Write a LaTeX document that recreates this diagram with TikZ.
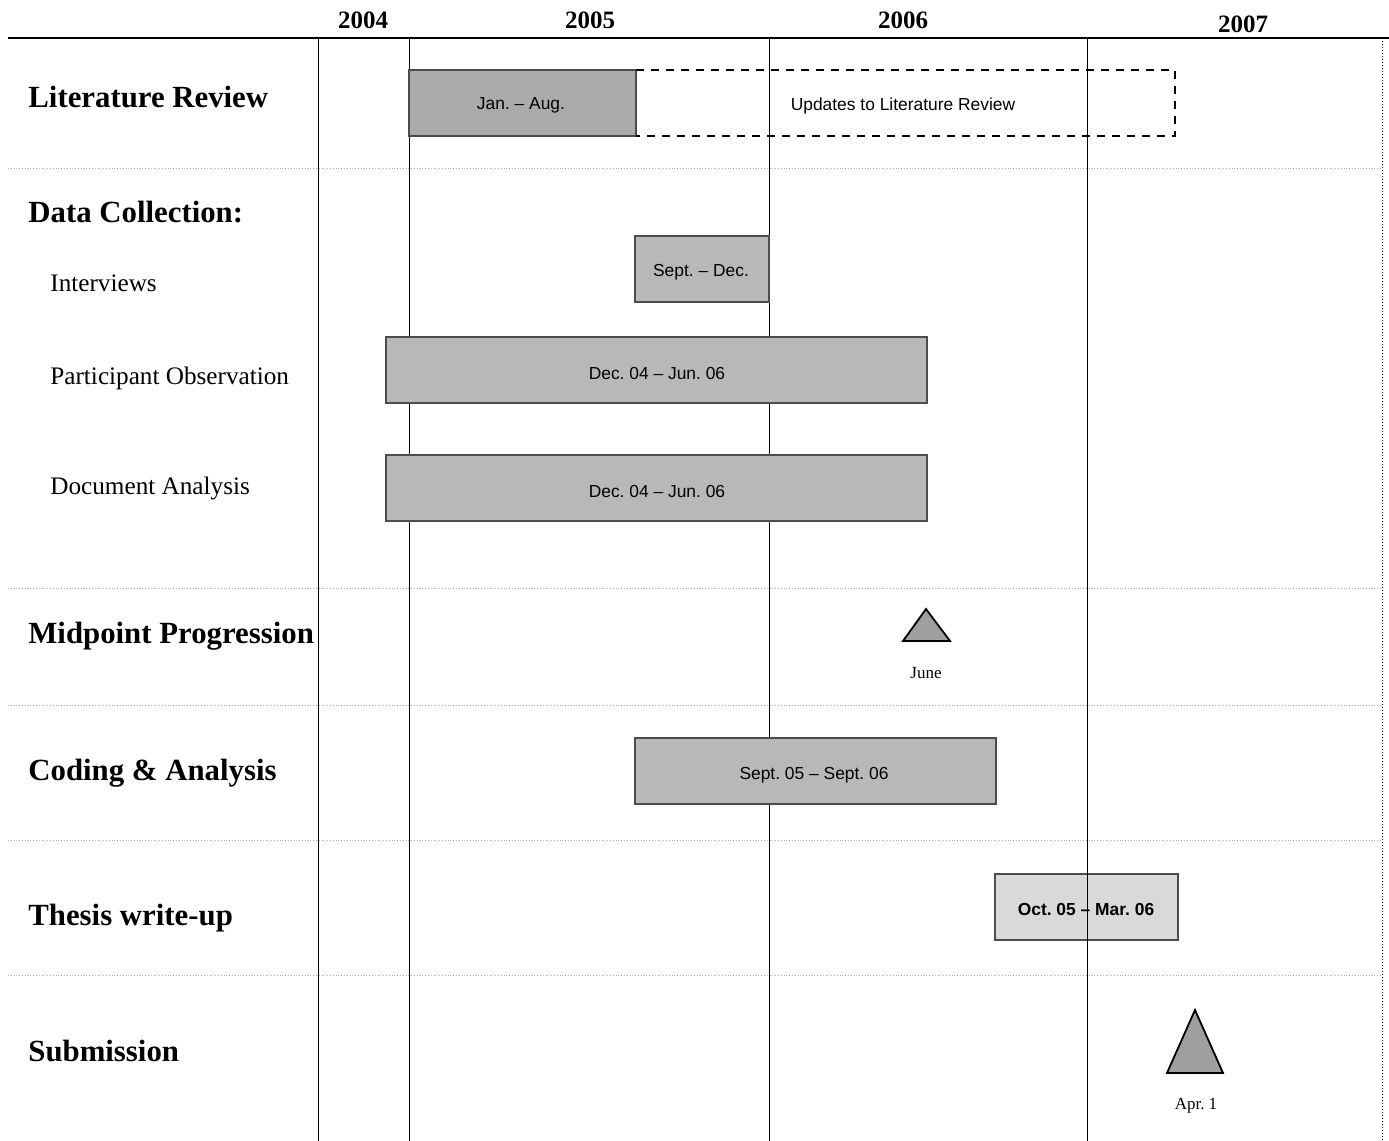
\documentclass[tikz,border=0pt]{standalone}
\usepackage{fontspec}
\setmainfont{Liberation Serif}
\setsansfont{Liberation Sans}
\frenchspacing
\definecolor{barfill}{HTML}{B8B8B8}
\definecolor{bardark}{HTML}{ABABAB}
\definecolor{barlight}{HTML}{D9D9D9}
\begin{document}
\begin{tikzpicture}
[x=0.5pt,y=-0.5pt,
 task/.style={anchor=west, inner sep=0pt, font=\bfseries\fontsize{15.4}{18}\selectfont},
 sub/.style={anchor=west, inner sep=0pt, font=\fontsize{12.6}{15}\selectfont},
 year/.style={inner sep=0pt, font=\bfseries\fontsize{12.5}{15}\selectfont},
 bar/.style={draw=gray!60!black, fill=barfill, line width=0.6pt},
 barlabel/.style={inner sep=0pt, font=\sffamily\fontsize{8.7}{10}\selectfont},
 milestone/.style={draw=black, fill=gray!75, line width=0.9pt, line join=miter},
 note/.style={inner sep=0pt, font=\fontsize{8.5}{10}\selectfont},
 sep/.style={gray!65, densely dotted, line width=0.4pt},
 rule/.style={black, line width=0.5pt}]
\useasboundingbox (0,0) rectangle (1389,1141);

% years and top rule
\node[year] (y2004) at (363,20) {2004};
\node[year] (y2005) at (590,20) {2005};
\node[year] (y2006) at (903,20) {2006};
\node[year] (y2007) at (1243,24) {2007};
\draw[line width=1pt] (8,38) -- (1389,38);

% row separators
\foreach \y in {168,588,705,840,975}
  \draw[sep] (8,\y) -- (1382,\y);

% column lines
\foreach \x in {318,409,769}
  \draw[rule] (\x,38) -- (\x,1141);
\draw[rule, densely dotted] (1382,38) -- (1382,1141);

% task names
\node[task] (litrev) at (28,97) {Literature Review};
\node[task] (datacol) at (28,212) {Data Collection:};
\node[sub] (interv) at (50,283) {Interviews};
\node[sub] (partobs) at (50,378) {Participant Observation};
\node[sub] (docana) at (50,488) {Document Analysis};
\node[task] (midpt) at (28,636) {Midpoint Progression};
\node[task] (coding) at (28,773) {Coding \& Analysis};
\node[task] (thesis) at (28,918) {Thesis write-up};
\node[task] (submit) at (28,1051) {Submission};

% bars
\draw[bar, fill=bardark] (409,70) rectangle (636,136);
\node[barlabel] (janaug) at (521,105) {Jan. -- Aug.};
\draw[line width=0.8pt, dash pattern=on 4pt off 3.5pt] (636,70) -- (1175,70) -- (1175,136) -- (636,136);
\node[barlabel] (updates) at (903,106) {Updates to Literature Review};

\draw[bar] (635,236) rectangle (769,302);
\node[barlabel] (septdec) at (701,272) {Sept. -- Dec.};
\draw[bar] (386,337) rectangle (927,403);
\node[barlabel] (obsbar) at (657,374) {Dec. 04 -- Jun. 06};
\draw[bar] (386,455) rectangle (927,521);
\node[barlabel] (docbar) at (657,492) {Dec. 04 -- Jun. 06};

\draw[bar] (635,738) rectangle (996,804);
\node[barlabel] (codbar) at (814,775) {Sept. 05 -- Sept. 06};
\draw[bar, fill=barlight] (995,874) rectangle (1178,940);
\node[barlabel, font=\sffamily\bfseries\fontsize{8.7}{10}\selectfont] (thesbar) at (1086,910) {Oct. 05 -- Mar. 06};
\draw[rule] (1087,38) -- (1087,1141);

% milestones
\draw[milestone] (926,609) -- (950,641) -- (903,641) -- cycle;
\node[note] (june) at (926,673) {June};
\draw[milestone] (1195,1010) -- (1223,1073) -- (1167,1073) -- cycle;
\node[note] (apr) at (1196,1106) {Apr. 1};

\end{tikzpicture}
\end{document}
